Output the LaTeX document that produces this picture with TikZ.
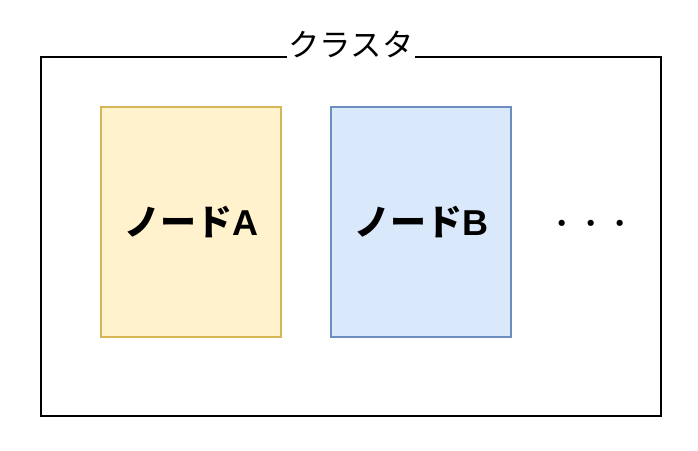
\documentclass[tikz,border=0pt]{standalone}
\usepackage{fontspec}
\setmainfont{Liberation Sans}
\newfontfamily\jpfont{Noto Sans CJK JP}
\usepackage{tikz}
\usetikzlibrary{positioning}

\definecolor{yellowfill}{HTML}{FFF2CC}
\definecolor{yellowline}{HTML}{D6B656}
\definecolor{bluefill}{HTML}{DAE8FC}
\definecolor{blueline}{HTML}{6C8EBF}

\begin{document}
\begin{tikzpicture}[x=0.75pt,y=-0.75pt,node distance=36.7pt]
  \tikzstyle{cluster}=[draw=black,line width=1.1pt,minimum width=465pt,minimum height=269.25pt]
  \tikzstyle{title}=[fill=white,inner sep=1.5pt,font=\jpfont\fontsize{23.5}{28}\selectfont]
  \tikzstyle{member}=[line width=0.8pt,minimum width=135pt,minimum height=172.5pt,font=\fontsize{27}{32}\selectfont\bfseries]

  \useasboundingbox (0,0) rectangle (698,450);

  \node[cluster] (C) at (351,236.5) {};
  \node[title] (T) at ([yshift=9pt]C.north) {クラスタ};
  \node[member,fill=yellowfill,draw=yellowline] (A) at (191,222) {{\jpfont\bfseries ノード}A};
  \node[member,fill=bluefill,draw=blueline] (B) [right=of A] {{\jpfont\bfseries ノード}B};
  \node (D) at (591,227) {\jpfont\fontsize{22}{26}\selectfont ・・・};

\end{tikzpicture}
\end{document}
